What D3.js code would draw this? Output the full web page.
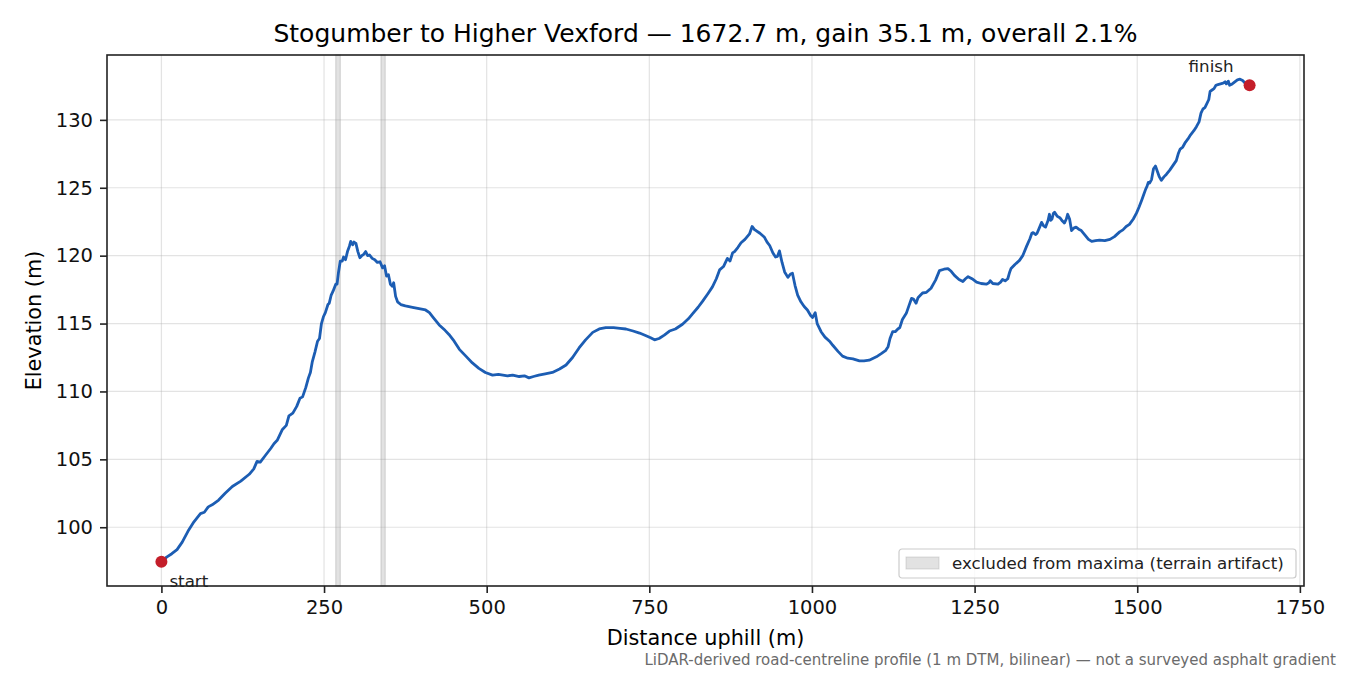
<!DOCTYPE html>
<html>
<head>
<meta charset="utf-8">
<script src="https://cdn.jsdelivr.net/npm/d3@7"></script>
<style>
  body { margin: 0; background: #fff; }
  svg text { font-family: 'DejaVu Sans', sans-serif; }
</style>
</head>
<body>
<div id="chart"></div>
<script>
// distance along the road (m) and elevation (m)
const distance = [
  0, 8, 16, 24, 32, 42, 50, 60, 66, 72, 78, 88, 98, 109, 122, 135, 142, 147, 152, 160,
  168, 173, 178, 186, 192, 196, 202, 208, 213, 217, 222, 226, 229, 232, 236, 240, 243, 246, 249, 252,
  256, 258, 261, 264, 268, 270, 272, 275, 278, 280, 283, 286, 289, 291, 294, 296, 299, 302, 305, 308,
  311, 314, 317, 320, 324, 328, 332, 336, 340, 343, 346, 349, 352, 355, 357, 360, 363, 368, 375, 386,
  396, 406, 412, 417, 427, 436, 442, 450, 458, 468, 478, 488, 498, 509, 518, 525, 532, 540, 550, 558,
  565, 572, 580, 590, 601, 612, 622, 632, 642, 652, 663, 673, 683, 695, 705, 714, 725, 735, 745, 752,
  758, 765, 773, 781, 790, 801, 810, 817, 825, 832, 840, 847, 853, 858, 864, 870, 874, 878, 881, 886,
  891, 897, 904, 908, 912, 914, 920, 927, 931, 935, 940, 944, 947, 950, 954, 958, 963, 967, 970, 974,
  978, 983, 988, 993, 998, 1001, 1005, 1008, 1011, 1014, 1020, 1027, 1032, 1040, 1047, 1055, 1063, 1073, 1080, 1088,
  1099, 1107, 1113, 1117, 1120, 1124, 1128, 1132, 1135, 1139, 1145, 1149, 1153, 1156, 1160, 1163, 1167, 1170, 1176, 1183,
  1190, 1196, 1203, 1209, 1214, 1219, 1226, 1232, 1236, 1240, 1246, 1253, 1260, 1268, 1272, 1274, 1278, 1286, 1290, 1293,
  1297, 1301, 1304, 1306, 1312, 1319, 1324, 1330, 1335, 1338, 1340, 1344, 1346, 1350, 1353, 1356, 1359, 1363, 1365, 1367,
  1369, 1371, 1373, 1377, 1381, 1385, 1388, 1391, 1393, 1396, 1399, 1403, 1406, 1410, 1414, 1420, 1425, 1430, 1436, 1442,
  1450, 1458, 1465, 1473, 1478, 1483, 1488, 1494, 1499, 1503, 1507, 1510, 1513, 1515, 1517, 1519, 1522, 1525, 1528, 1531,
  1534, 1537, 1541, 1545, 1550, 1555, 1560, 1563, 1566, 1570, 1574, 1578, 1582, 1587, 1591, 1595, 1598, 1601, 1604, 1607,
  1610, 1612, 1615, 1618, 1621, 1624, 1628, 1632, 1635, 1637, 1640, 1642, 1646, 1650, 1654, 1658, 1662, 1666, 1672.7
]
const elevation = [
  97.45, 97.8, 98.05, 98.35, 98.9, 99.8, 100.4, 101.0, 101.1, 101.5, 101.65, 102.0, 102.5, 103.0, 103.4, 103.9, 104.3, 104.85, 104.8, 105.3,
  105.8, 106.15, 106.4, 107.2, 107.5, 108.2, 108.4, 108.9, 109.5, 109.6, 110.3, 111.0, 111.4, 112.2, 112.9, 113.7, 113.9, 115.0, 115.5, 115.8,
  116.4, 116.5, 117.1, 117.4, 117.9, 117.9, 118.7, 119.6, 119.6, 119.9, 119.7, 120.3, 120.7, 121.05, 120.8, 121.0, 120.9, 120.3, 119.85, 120.0,
  120.1, 120.3, 120.0, 120.05, 119.8, 119.7, 119.5, 119.55, 119.1, 119.25, 118.5, 118.6, 117.9, 117.75, 118.0, 117.0, 116.6, 116.4, 116.3, 116.2,
  116.1, 116.0, 115.8, 115.5, 114.9, 114.5, 114.2, 113.7, 113.1, 112.6, 112.1, 111.7, 111.4, 111.2, 111.25, 111.2, 111.15, 111.2, 111.1, 111.15,
  111.0, 111.1, 111.2, 111.3, 111.4, 111.65, 111.95, 112.5, 113.2, 113.8, 114.35, 114.6, 114.7, 114.7, 114.65, 114.6, 114.45, 114.3, 114.1, 113.95,
  113.8, 113.9, 114.15, 114.45, 114.6, 114.95, 115.35, 115.75, 116.2, 116.65, 117.2, 117.7, 118.3, 118.95, 119.2, 119.8, 119.6, 120.2, 120.3, 120.6,
  120.95, 121.2, 121.6, 122.15, 121.9, 121.85, 121.65, 121.35, 121.0, 120.75, 120.2, 119.9, 119.95, 120.35, 119.5, 118.8, 118.4, 118.65, 118.7, 117.8,
  117.1, 116.6, 116.25, 116.0, 115.6, 115.45, 115.8, 115.0, 114.7, 114.4, 114.0, 113.7, 113.4, 112.95, 112.6, 112.45, 112.4, 112.25, 112.25, 112.3,
  112.55, 112.8, 113.0, 113.3, 113.9, 114.4, 114.4, 114.6, 114.7, 115.3, 115.75, 116.3, 116.85, 116.8, 116.5, 116.9, 117.1, 117.25, 117.3, 117.6,
  118.2, 118.9, 119.0, 119.05, 118.85, 118.55, 118.25, 118.1, 118.3, 118.45, 118.3, 118.05, 117.95, 117.9, 118.0, 118.15, 117.95, 117.9, 118.05, 118.25,
  118.15, 118.3, 118.8, 119.05, 119.35, 119.65, 120.0, 120.7, 121.25, 121.65, 121.7, 121.55, 121.65, 122.1, 122.45, 122.2, 122.1, 122.6, 123.05, 122.6,
  122.7, 123.1, 123.2, 122.9, 122.8, 122.55, 122.4, 122.7, 123.05, 122.7, 121.85, 122.05, 122.1, 121.95, 121.85, 121.5, 121.2, 121.05, 121.1, 121.15,
  121.1, 121.2, 121.4, 121.75, 121.9, 122.15, 122.3, 122.7, 123.15, 123.6, 124.1, 124.5, 124.9, 125.1, 125.4, 125.35, 125.6, 126.4, 126.6, 126.2,
  125.8, 125.55, 125.8, 126.0, 126.3, 126.65, 127.0, 127.5, 127.85, 128.0, 128.35, 128.6, 128.9, 129.2, 129.5, 129.85, 130.5, 130.8, 130.9, 131.2,
  131.5, 132.1, 132.2, 132.3, 132.55, 132.6, 132.65, 132.7, 132.8, 132.65, 132.85, 132.55, 132.65, 132.8, 132.95, 133.0, 132.9, 132.7, 132.55
]
// stretches left out of the maxima search (terrain artifacts), start/end in m
const excludedStart = [268, 337.5]
const excludedEnd = [275, 344]

const xTicks = [0, 250, 500, 750, 1000, 1250, 1500, 1750]
const yTicks = [100, 105, 110, 115, 120, 125, 130]

const titleText = 'Stogumber to Higher Vexford — 1672.7 m, gain 35.1 m, overall 2.1%'
const noteText = 'LiDAR-derived road-centreline profile (1 m DTM, bilinear) — not a surveyed asphalt gradient'
const legendText = 'excluded from maxima (terrain artifact)'

const width = 1350
const height = 675
const plot = { left: 107, top: 55, right: 1304, bottom: 586 }

const points = distance.map((d, i) => ({ x: d, y: elevation[i] }))

// matplotlib-like 5% margins
const pad = (lo, hi) => [lo - (hi - lo) * 0.05, hi + (hi - lo) * 0.05]
const xScaler = d3.scaleLinear()
  .domain(pad(d3.min(distance), d3.max(distance)))
  .range([plot.left, plot.right])
const yScaler = d3.scaleLinear()
  .domain(pad(d3.min(elevation), d3.max(elevation)))
  .range([plot.bottom, plot.top])

const svg = d3.select('#chart')
  .append('svg')
  .attr('width', width)
  .attr('height', height)

svg.append('text')
  .attr('x', (plot.left + plot.right) / 2)
  .attr('y', 42)
  .attr('text-anchor', 'middle')
  .style('font-size', '25px')
  .text(titleText)

const clip = svg.append('clipPath').attr('id', 'plot-clip')
clip.append('rect')
  .attr('x', plot.left)
  .attr('y', plot.top)
  .attr('width', plot.right - plot.left)
  .attr('height', plot.bottom - plot.top)

// grid
const grid = svg.append('g').classed('grid', true)
grid.selectAll('line.gx')
  .data(xTicks.filter(t => xScaler(t) <= plot.right))
  .enter()
  .append('line')
  .attr('x1', d => xScaler(d))
  .attr('x2', d => xScaler(d))
  .attr('y1', plot.top)
  .attr('y2', plot.bottom)
  .attr('stroke', '#b0b0b0')
  .attr('stroke-opacity', 0.35)
  .attr('stroke-width', 1.2)
grid.selectAll('line.gy')
  .data(yTicks)
  .enter()
  .append('line')
  .attr('x1', plot.left)
  .attr('x2', plot.right)
  .attr('y1', d => yScaler(d))
  .attr('y2', d => yScaler(d))
  .attr('stroke', '#b0b0b0')
  .attr('stroke-opacity', 0.35)
  .attr('stroke-width', 1.2)

// excluded bands
svg.append('g')
  .selectAll('rect')
  .data(excludedStart.map((s, i) => ({ s, e: excludedEnd[i] })))
  .enter()
  .append('rect')
  .attr('x', d => xScaler(d.s))
  .attr('width', d => xScaler(d.e) - xScaler(d.s))
  .attr('y', plot.top)
  .attr('height', plot.bottom - plot.top)
  .attr('fill', '#9e9e9e')
  .attr('fill-opacity', 0.3)
  .attr('stroke', '#9e9e9e')
  .attr('stroke-opacity', 0.35)
  .attr('stroke-width', 1.2)

// profile
const line = d3.line().x(d => xScaler(d.x)).y(d => yScaler(d.y))
svg.append('path')
  .datum(points)
  .attr('clip-path', 'url(#plot-clip)')
  .attr('fill', 'none')
  .attr('stroke', '#1c5db3')
  .attr('stroke-width', 2.8)
  .attr('stroke-linejoin', 'round')
  .attr('d', line)

// start / finish markers
const ends = [
  { x: distance[0], y: elevation[0], label: 'start', dx: 8, dy: 25, anchor: 'start' },
  { x: distance[distance.length - 1], y: elevation[elevation.length - 1], label: 'finish', dx: -16, dy: -13, anchor: 'end' }
]
svg.append('g')
  .selectAll('circle')
  .data(ends)
  .enter()
  .append('circle')
  .attr('cx', d => xScaler(d.x))
  .attr('cy', d => yScaler(d.y))
  .attr('r', 6)
  .attr('fill', '#c41e2a')
svg.append('g')
  .selectAll('text')
  .data(ends)
  .enter()
  .append('text')
  .attr('x', d => xScaler(d.x) + d.dx)
  .attr('y', d => yScaler(d.y) + d.dy)
  .attr('text-anchor', d => d.anchor)
  .style('font-size', '16.7px')
  .attr('fill', '#222')
  .text(d => d.label)

// axes
const xAxis = d3.axisBottom(xScaler).tickValues(xTicks).tickFormat(d3.format('d'))
  .tickSize(7).tickPadding(7).tickSizeOuter(0)
const yAxis = d3.axisLeft(yScaler).tickValues(yTicks).tickFormat(d3.format('d'))
  .tickSize(7).tickPadding(7).tickSizeOuter(0)
const gx = svg.append('g')
  .attr('transform', `translate(0, ${plot.bottom})`)
  .call(xAxis)
const gy = svg.append('g')
  .attr('transform', `translate(${plot.left}, 0)`)
  .call(yAxis)
;[gx, gy].forEach(g => {
  g.select('.domain').remove()
  g.selectAll('line').attr('stroke', '#222').attr('stroke-width', 1.6)
  g.selectAll('text').style('font-size', '19.5px').attr('fill', '#111')
})

// spines
svg.append('rect')
  .attr('x', plot.left)
  .attr('y', plot.top)
  .attr('width', plot.right - plot.left)
  .attr('height', plot.bottom - plot.top)
  .attr('fill', 'none')
  .attr('stroke', '#222')
  .attr('stroke-width', 1.6)

svg.append('text')
  .attr('x', (plot.left + plot.right) / 2)
  .attr('y', 645)
  .attr('text-anchor', 'middle')
  .style('font-size', '20.8px')
  .text('Distance uphill (m)')
svg.append('text')
  .attr('transform', `translate(41, ${(plot.top + plot.bottom) / 2}) rotate(-90)`)
  .attr('text-anchor', 'middle')
  .style('font-size', '20.8px')
  .text('Elevation (m)')

// legend
const legend = svg.append('g').attr('transform', 'translate(899, 549)')
legend.append('rect')
  .attr('width', 397)
  .attr('height', 29)
  .attr('rx', 3)
  .attr('fill', '#fff')
  .attr('fill-opacity', 0.8)
  .attr('stroke', '#cccccc')
  .attr('stroke-width', 1.2)
legend.append('rect')
  .attr('x', 7)
  .attr('y', 8)
  .attr('width', 33)
  .attr('height', 12)
  .attr('fill', '#9e9e9e')
  .attr('fill-opacity', 0.3)
  .attr('stroke', '#9e9e9e')
  .attr('stroke-opacity', 0.35)
legend.append('text')
  .attr('x', 53)
  .attr('y', 20)
  .style('font-size', '16.7px')
  .attr('fill', '#222')
  .text(legendText)

svg.append('text')
  .attr('x', 1336)
  .attr('y', 665)
  .attr('text-anchor', 'end')
  .style('font-size', '15px')
  .attr('fill', '#6b6b6b')
  .text(noteText)
</script>
</body>
</html>
